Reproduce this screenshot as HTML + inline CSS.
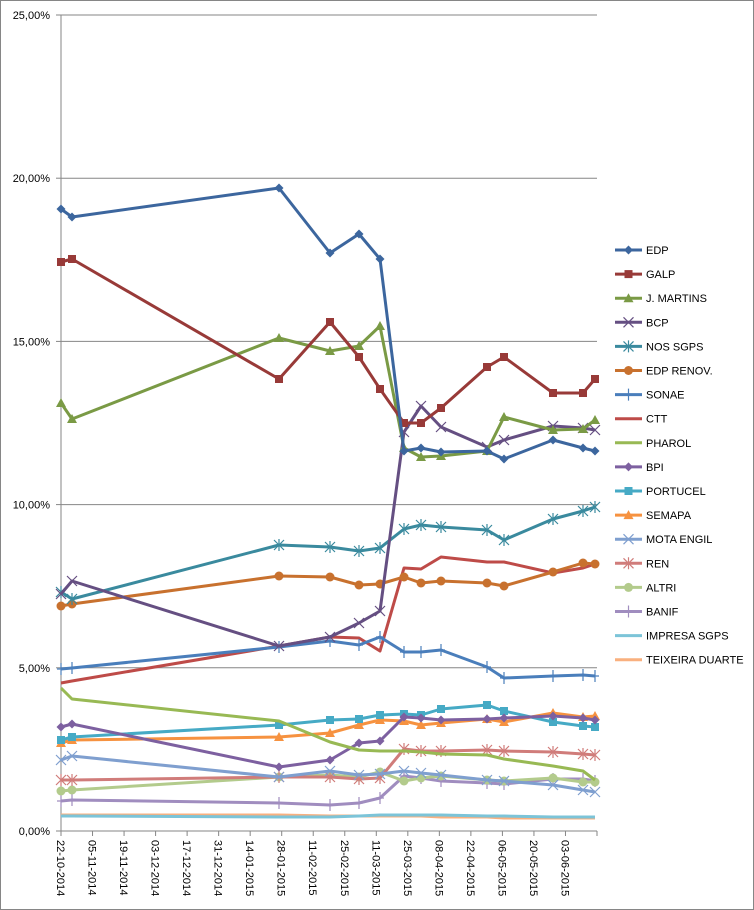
<!DOCTYPE html>
<html><head><meta charset="utf-8"><style>
body{margin:0;background:#fff}
svg{display:block;font-family:"Liberation Sans",sans-serif}
</style></head><body>
<svg id="c" width="754" height="910" xmlns="http://www.w3.org/2000/svg">
<rect x="0.5" y="0.5" width="753" height="909" fill="#fff" stroke="#868686"/>
<g id="grid"></g><g id="series"></g><g id="legend"></g>
</svg>
<script>
var NS="http://www.w3.org/2000/svg";
function el(p,t,a,txt){var e=document.createElementNS(NS,t);for(var k in a)e.setAttribute(k,a[k]);if(txt!==undefined)e.textContent=txt;p.appendChild(e);return e;}
var g=document.getElementById('grid');
var X0=61,X1=597;
var yl=["0,00%","5,00%","10,00%","15,00%","20,00%","25,00%"];
for(var i=0;i<=5;i++){var y=831-i*163.2;
 if(i>0)el(g,'line',{x1:X0,x2:X1,y1:y,y2:y,stroke:'#868686','stroke-width':1});
 el(g,'line',{x1:X0-5,x2:X0,y1:y,y2:y,stroke:'#868686'});
 el(g,'text',{x:50,y:y+4,'text-anchor':'end','font-size':11,fill:'#000'},yl[i]);}
el(g,'line',{x1:X0,x2:X0,y1:15,y2:836,stroke:'#868686'});
el(g,'line',{x1:X0,x2:X1,y1:831,y2:831,stroke:'#868686'});
var dl=["22-10-2014","05-11-2014","19-11-2014","03-12-2014","17-12-2014","31-12-2014","14-01-2015","28-01-2015","11-02-2015","25-02-2015","11-03-2015","25-03-2015","08-04-2015","22-04-2015","06-05-2015","20-05-2015","03-06-2015"];
var SP=(X1-X0)/17;
for(var i=0;i<=17;i++){var x=X0+i*SP;
 el(g,'line',{x1:x,x2:x,y1:831,y2:836,stroke:'#868686'});
 if(i<17)el(g,'text',{transform:'translate('+(x-4)+',840) rotate(90)','font-size':11,fill:'#000'},dl[i]);}
var xs=[61,72,279,330,359,380,404,421,441,487,504,553,583,595];
var S=[
["EDP","#3C669E","d",[209,217,188,253,234,259,451,448,452,451,459,440,448,451]],
["GALP","#983A38","s",[262,259,379,322,357,389,423,423,408,367,357,393,393,379]],
["J. MARTINS","#7A9A45","t",[403,419,338,351,346,326,448,457,456,451,417,430,429,420]],
["BCP","#654F82","x",[594,581,646,637,623,611,432,406,427,447,440,426,428,430]],
["NOS SGPS","#3A8A9E","a",[592,599,545,547,551,548,529,525,527,530,540,519,511,507]],
["EDP RENOV.","#C8712E","c",[606,604,576,577,585,584,577,583,581,583,586,572,563,564]],
["SONAE","#4A7EBB","p",[669,668,647,641,645,637,652,652,650,667,678,676,675,676]],
["CTT","#BE4B48","n",[683,681,646,637,638,651,568,569,557,562,562,573,568,564]],
["PHAROL","#98B954","n",[688,699,721,742,750,751,751,752,754,755,759,766,771,780]],
["BPI","#7D60A0","d",[727,724,767,760,743,741,717,718,720,719,718,716,718,720]],
["PORTUCEL","#46AAC5","s",[740,737,725,720,719,715,714,715,709,705,711,722,726,727]],
["SEMAPA","#F69240","t",[743,740,737,733,725,720,721,725,723,719,722,713,717,716]],
["MOTA ENGIL","#7F9FCF","x",[760,756,777,771,775,774,771,773,775,780,781,785,790,792]],
["REN","#D07C7A","a",[780,780,777,777,779,778,749,751,751,750,751,752,754,755]],
["ALTRI","#B3CB8C","c",[791,790,777,775,777,772,781,778,776,780,781,778,782,782]],
["BANIF","#A08DBF","p",[801,800,803,805,803,798,776,778,781,783,784,779,779,781]],
["IMPRESA SGPS","#7CC4D8","n",[816,816,817,817,816,815,815,815,815,816,816,817,817,817]],
["TEIXEIRA DUARTE","#F9B07F","n",[815,815,815,816,816,816,816,816,817,817,818,818,818,818]]
];
function marker(p,m,x,y,c){
 if(m=='d')el(p,'polygon',{points:(x)+','+(y-4.5)+' '+(x+4.5)+','+y+' '+x+','+(y+4.5)+' '+(x-4.5)+','+y,fill:c});
 else if(m=='s')el(p,'rect',{x:x-4,y:y-4,width:8,height:8,fill:c});
 else if(m=='t')el(p,'polygon',{points:x+','+(y-5)+' '+(x+5)+','+(y+4)+' '+(x-5)+','+(y+4),fill:c});
 else if(m=='c')el(p,'circle',{cx:x,cy:y,r:4.5,fill:c});
 else if(m=='x')el(p,'path',{d:'M'+(x-5)+' '+(y-5)+'L'+(x+5)+' '+(y+5)+'M'+(x-5)+' '+(y+5)+'L'+(x+5)+' '+(y-5),stroke:c,'stroke-width':1.2});
 else if(m=='a')el(p,'path',{d:'M'+(x-5)+' '+(y-5)+'L'+(x+5)+' '+(y+5)+'M'+(x-5)+' '+(y+5)+'L'+(x+5)+' '+(y-5)+'M'+x+' '+(y-6)+'L'+x+' '+(y+6),stroke:c,'stroke-width':1.2});
 else if(m=='p')el(p,'path',{d:'M'+x+' '+(y-6)+'L'+x+' '+(y+6)+'M'+(x-4)+' '+y+'L'+(x+4)+' '+y,stroke:c,'stroke-width':1.2});
}
var sg=document.getElementById('series'),lg=document.getElementById('legend');
for(var k=S.length-1;k>=0;k--){var s=S[k];var pts=[];
 for(var i=0;i<xs.length;i++)pts.push(xs[i]+','+s[3][i]);
 el(sg,'polyline',{points:pts.join(' '),fill:'none',stroke:s[1],'stroke-width':3,'stroke-linejoin':'round'});
 if(s[2]!='n')for(var i=0;i<xs.length;i++)marker(sg,s[2],xs[i],s[3][i],s[1]);}
for(var k=0;k<S.length;k++){var s=S[k];var y=250+k*24.1;
 el(lg,'line',{x1:615,x2:642,y1:y,y2:y,stroke:s[1],'stroke-width':3});
 if(s[2]!='n')marker(lg,s[2],628.5,y,s[1]);
 el(lg,'text',{x:646,y:y+4,'font-size':11,fill:'#000'},s[0]);}
</script>
</body></html>
